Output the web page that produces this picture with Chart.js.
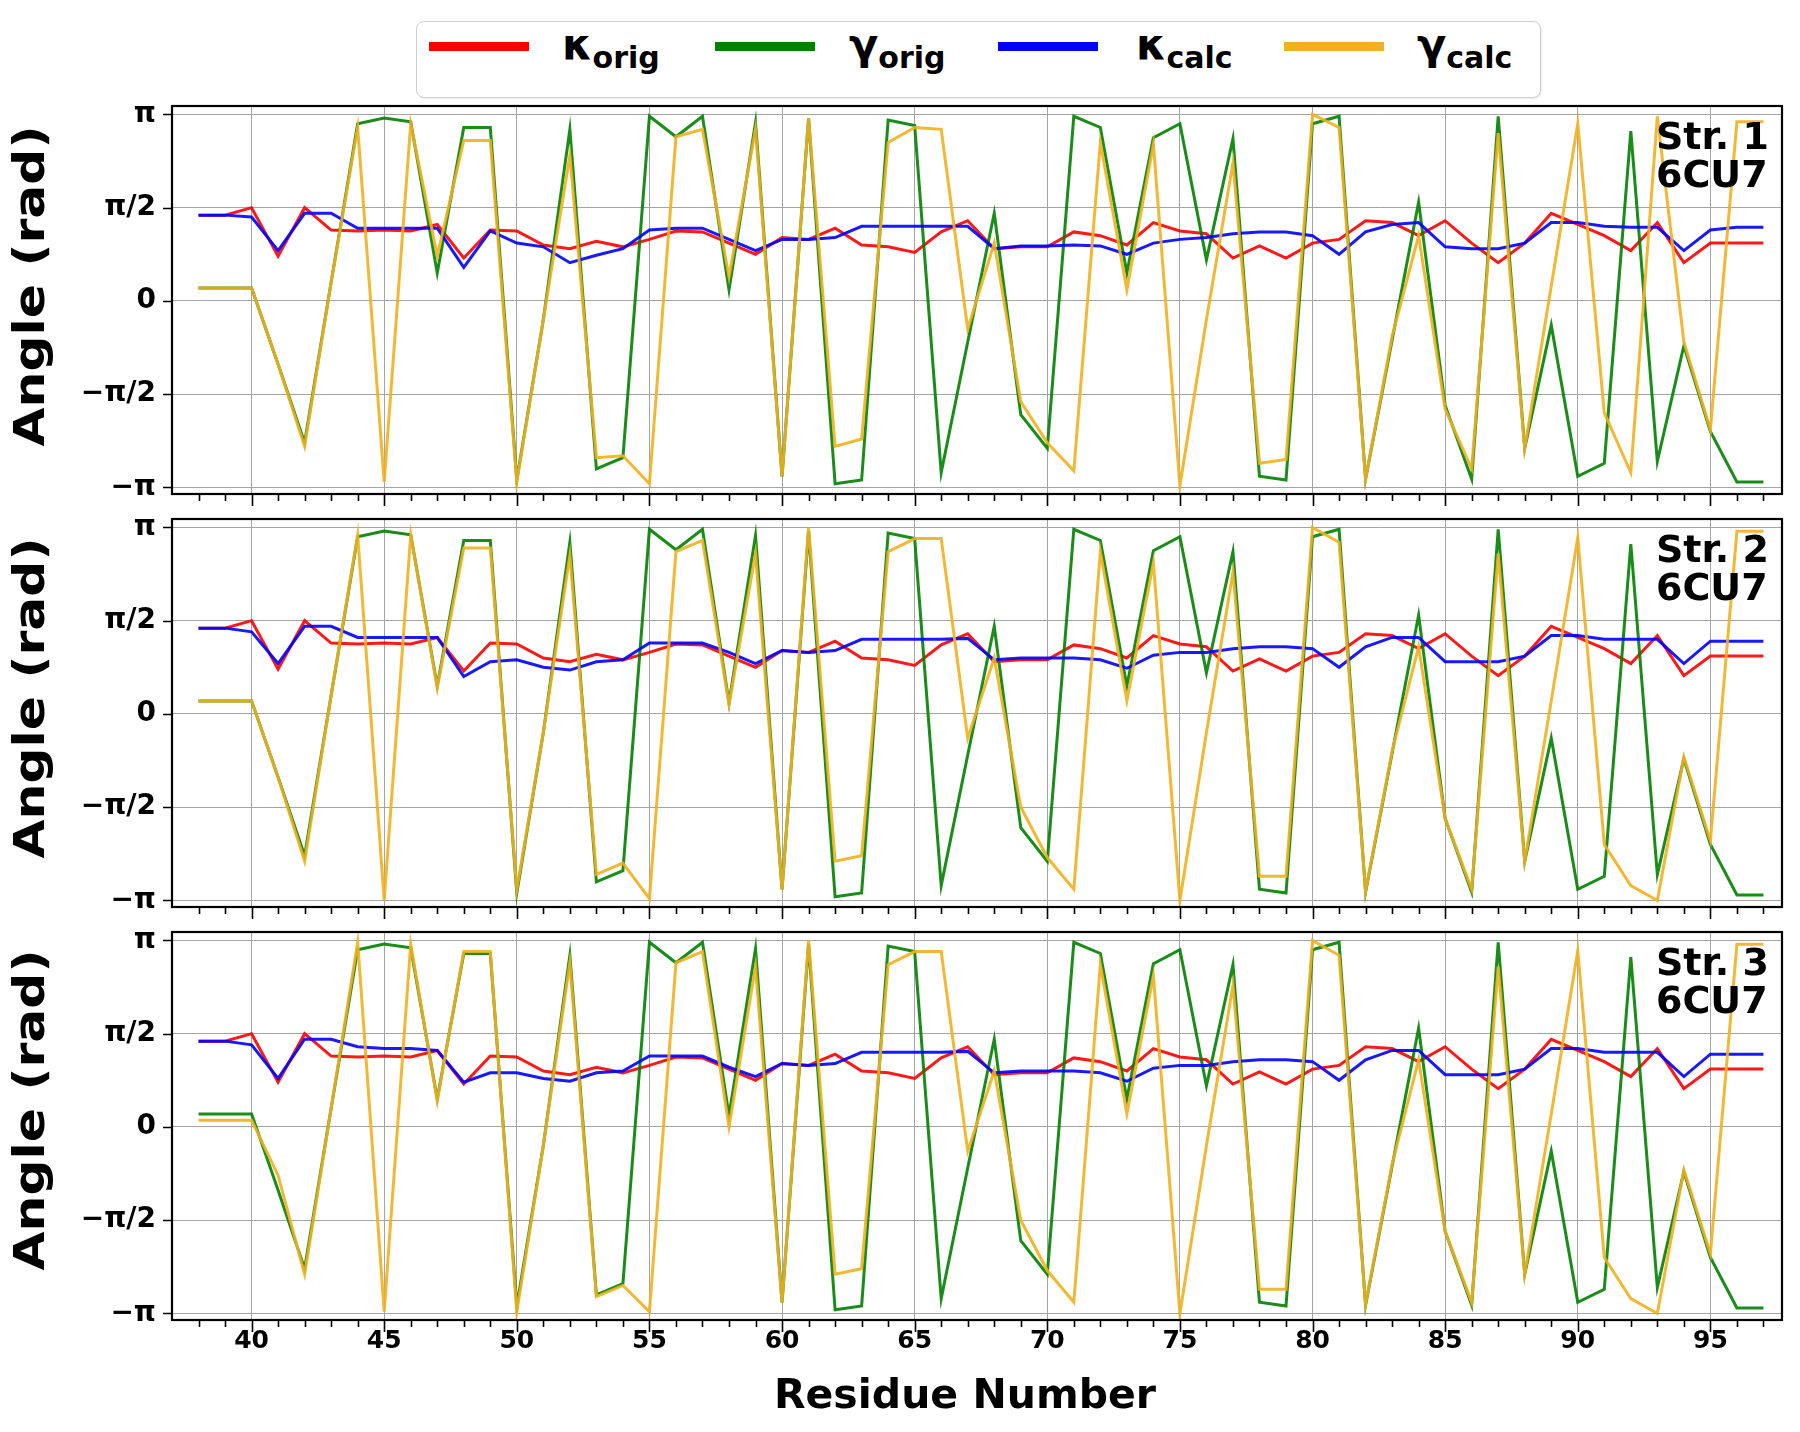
<!DOCTYPE html>
<html>
<head>
<meta charset="utf-8">
<script src="https://cdn.jsdelivr.net/npm/chart.js@4.4.1/dist/chart.umd.min.js"></script>
<style>
  body { margin: 0; background: #fff; width: 1800px; height: 1432px; position: relative; overflow: hidden; font-family: "DejaVu Sans", sans-serif; color: #000; }
  canvas { position: absolute; left: 0; }
  .tag { position: absolute; left: 1656px; font-weight: bold; font-size: 38px; line-height: 38px; }
  .ytitle { position: absolute; left: -170px; width: 400px; height: 48px; line-height: 48px; text-align: center; font-weight: bold; font-size: 42px; transform: rotate(-90deg) scale(1.2, 1); white-space: nowrap; }
  #legend { position: absolute; left: 416px; top: 21px; width: 1125px; height: 77px; border: 1.5px solid #cfcfcf; border-radius: 8px; box-sizing: border-box; background: #fff; box-shadow: 1px 1px 2px rgba(0,0,0,0.08); }
  .sw { position: absolute; top: 20px; width: 100px; height: 9px; }
  .lab { position: absolute; top: 2px; font-weight: bold; font-size: 43px; line-height: 40px; white-space: nowrap; }
  .lab sub { font-size: 30px; vertical-align: -9px; line-height: 0; }
  #xtitle { position: absolute; left: 150px; width: 1630px; top: 1370px; text-align: center; font-weight: bold; font-size: 41px; line-height: 48px; }
</style>
</head>
<body>
<div id="legend">
  <div class="sw" style="left:12px;background:#ff0000"></div><div class="lab" style="left:145px">κ<sub>orig</sub></div>
  <div class="sw" style="left:298px;background:#008000"></div><div class="lab" style="left:432px">γ<sub>orig</sub></div>
  <div class="sw" style="left:581px;background:#0000ff"></div><div class="lab" style="left:719px">κ<sub>calc</sub></div>
  <div class="sw" style="left:867px;background:#f0b020"></div><div class="lab" style="left:1000px">γ<sub>calc</sub></div>
</div>
<canvas id="p1" width="1800" height="418" style="top:96px"></canvas>
<canvas id="p2" width="1800" height="418" style="top:509px"></canvas>
<canvas id="p3" width="1800" height="448" style="top:922px"></canvas>
<div class="ytitle" style="top:262px">Angle (rad)</div>
<div class="ytitle" style="top:674px">Angle (rad)</div>
<div class="ytitle" style="top:1086px">Angle (rad)</div>
<div class="tag" style="top:117px">Str. 1<br>6CU7</div>
<div class="tag" style="top:530px">Str. 2<br>6CU7</div>
<div class="tag" style="top:943px">Str. 3<br>6CU7</div>
<div id="xtitle">Residue Number</div>
<script>
// angles are given in units of pi
const residues = [38,39,40,41,42,43,44,45,46,47,48,49,50,51,52,53,54,55,56,57,58,59,60,61,62,63,64,65,66,67,
  68,69,70,71,72,73,74,75,76,77,78,79,80,81,82,83,84,85,86,87,88,89,90,91,92,93,94,95,96,97]

const kOrig = [0.46,0.46,0.50,0.24,0.50,0.38,0.375,0.38,0.375,0.41,
  0.23,0.38,0.375,0.30,0.28,0.32,0.29,0.33,0.375,0.37,
  0.31,0.25,0.34,0.33,0.39,0.30,0.29,0.26,0.37,0.43,
  0.28,0.29,0.29,0.37,0.35,0.30,0.42,0.375,0.36,0.23,
  0.295,0.23,0.31,0.33,0.43,0.42,0.35,0.43,0.31,0.205,
  0.31,0.47,0.41,0.35,0.27,0.42,0.205,0.31,0.31,0.31]

const gOrig = [0.07,0.07,0.07,-0.34,-0.76,0.10,0.95,0.98,0.96,0.15,
  0.93,0.93,-0.96,-0.10,0.92,-0.90,-0.84,0.99,0.88,0.99,
  0.06,0.955,-0.94,0.98,-0.98,-0.96,0.97,0.94,-0.92,-0.22,
  0.47,-0.61,-0.79,0.99,0.93,0.15,0.875,0.95,0.22,0.87,
  -0.94,-0.96,0.95,0.99,-0.955,-0.21,0.53,-0.56,-0.955,0.99,
  -0.79,-0.13,-0.94,-0.87,0.91,-0.86,-0.24,-0.70,-0.97,-0.97]

const kCalc1 = [0.46,0.46,0.45,0.27,0.47,0.47,0.39,0.39,0.39,0.39,
  0.18,0.375,0.31,0.29,0.205,0.245,0.28,0.38,0.39,0.39,
  0.33,0.27,0.33,0.33,0.34,0.40,0.40,0.40,0.40,0.40,
  0.28,0.295,0.295,0.30,0.295,0.25,0.31,0.33,0.34,0.36,
  0.37,0.37,0.35,0.25,0.37,0.41,0.42,0.29,0.28,0.28,
  0.31,0.42,0.42,0.40,0.395,0.395,0.27,0.38,0.395,0.395]

const gCalc1 = [0.07,0.07,0.07,-0.34,-0.78,0.10,0.93,-0.97,0.95,0.24,
  0.86,0.86,-0.97,-0.10,0.78,-0.84,-0.83,-0.98,0.88,0.92,
  0.13,0.92,-0.94,0.98,-0.78,-0.74,0.85,0.93,0.92,-0.15,
  0.31,-0.54,-0.76,-0.91,0.85,0.06,0.84,-0.99,-0.10,0.74,
  -0.87,-0.85,1.0,0.93,-0.955,-0.19,0.35,-0.58,-0.90,0.90,
  -0.79,0.08,0.95,-0.60,-0.92,0.99,-0.22,-0.69,0.96,0.96]

const kCalc2 = [0.46,0.46,0.44,0.27,0.47,0.47,0.41,0.41,0.41,0.41,
  0.20,0.28,0.29,0.25,0.235,0.28,0.29,0.38,0.38,0.38,
  0.33,0.27,0.34,0.33,0.34,0.40,0.40,0.40,0.40,0.405,
  0.29,0.30,0.30,0.30,0.29,0.245,0.315,0.33,0.33,0.35,
  0.36,0.36,0.35,0.25,0.36,0.41,0.41,0.28,0.28,0.28,
  0.31,0.42,0.42,0.40,0.40,0.40,0.27,0.39,0.39,0.39]

const gCalc2 = [0.07,0.07,0.07,-0.34,-0.79,0.10,0.96,-1.0,0.96,0.14,
  0.89,0.89,-0.94,-0.10,0.85,-0.86,-0.80,-0.99,0.87,0.93,
  0.05,0.86,-0.94,1.0,-0.79,-0.76,0.87,0.94,0.94,-0.13,
  0.30,-0.50,-0.77,-0.94,0.87,0.07,0.81,-1.0,-0.10,0.76,
  -0.87,-0.87,1.0,0.92,-0.95,-0.20,0.36,-0.56,-0.94,0.86,
  -0.79,0.07,0.945,-0.70,-0.92,-1.0,-0.23,-0.68,0.98,0.98]

const kCalc3 = [0.46,0.46,0.44,0.26,0.47,0.47,0.43,0.42,0.42,0.41,
  0.24,0.29,0.29,0.26,0.245,0.29,0.30,0.38,0.38,0.38,
  0.32,0.27,0.34,0.33,0.34,0.40,0.40,0.40,0.40,0.405,
  0.29,0.30,0.30,0.30,0.29,0.245,0.315,0.33,0.33,0.35,
  0.36,0.36,0.35,0.25,0.36,0.41,0.41,0.28,0.28,0.28,
  0.31,0.42,0.42,0.40,0.40,0.40,0.27,0.39,0.39,0.39]

const gCalc3 = [0.036,0.036,0.036,-0.26,-0.79,0.10,0.99,-0.99,0.98,0.14,
  0.94,0.94,-0.99,-0.10,0.88,-0.91,-0.85,-0.99,0.88,0.94,
  0.0,0.86,-0.94,1.0,-0.79,-0.76,0.87,0.94,0.94,-0.13,
  0.30,-0.50,-0.77,-0.94,0.87,0.07,0.81,-1.0,-0.10,0.76,
  -0.87,-0.87,1.0,0.92,-0.95,-0.20,0.36,-0.56,-0.94,0.86,
  -0.79,0.07,0.945,-0.70,-0.92,-1.0,-0.23,-0.68,0.98,0.98]

const yTickValues = [-1, -0.5, 0, 0.5, 1]
const yTickLabels = ['−π', '−π/2', '0', 'π/2', 'π']

const colors = {
  kOrig: 'rgba(255,0,0,0.9)',
  gOrig: 'rgba(0,128,0,0.9)',
  kCalc: 'rgba(0,0,255,0.9)',
  gCalc: 'rgba(240,176,32,0.9)',
}

const pts = arr => residues.map((r, i) => ({ x: r, y: arr[i] }))

// black frame + outward tick marks like matplotlib
const frame = {
  id: 'frame',
  afterDraw(chart) {
    const { ctx, chartArea: a, scales: { x, y } } = chart
    ctx.save()
    ctx.strokeStyle = '#000'
    ctx.lineWidth = 1.6
    ctx.beginPath()
    residues.forEach(r => {
      const px = Math.round(x.getPixelForValue(r)) + 0.5
      ctx.moveTo(px, a.bottom)
      ctx.lineTo(px, a.bottom + (r % 5 === 0 ? 12 : 7))
    })
    yTickValues.forEach(v => {
      const py = Math.round(y.getPixelForValue(v)) + 0.5
      ctx.moveTo(a.left, py)
      ctx.lineTo(a.left - 9, py)
    })
    ctx.stroke()
    ctx.lineWidth = 2.2
    ctx.strokeRect(a.left, a.top, a.right - a.left, a.bottom - a.top)
    ctx.restore()
  }
}

function makePanel(id, kCalc, gCalc, showX) {
  new Chart(document.getElementById(id), {
    type: 'line',
    data: {
      datasets: [
        { label: 'κorig', data: pts(kOrig), borderColor: colors.kOrig, order: 4 },
        { label: 'γorig', data: pts(gOrig), borderColor: colors.gOrig, order: 3 },
        { label: 'κcalc', data: pts(kCalc), borderColor: colors.kCalc, order: 2 },
        { label: 'γcalc', data: pts(gCalc), borderColor: colors.gCalc, order: 1 },
      ],
    },
    options: {
      responsive: false,
      animation: false,
      devicePixelRatio: 1,
      elements: { point: { radius: 0 }, line: { borderWidth: 3, tension: 0 } },
      layout: { autoPadding: false, padding: { left: 0, right: 18, top: 10, bottom: showX ? 10 : 20 } },
      plugins: { legend: { display: false }, tooltip: { enabled: false } },
      scales: {
        x: {
          type: 'linear',
          min: 37,
          max: 97.7,
          border: { display: false },
          grid: { color: '#a4a4a4', lineWidth: 1, drawTicks: false },
          ticks: {
            display: showX,
            stepSize: 5,
            includeBounds: false,
            padding: 6,
            color: '#000',
            font: { family: 'DejaVu Sans', size: 25, weight: 'bold' },
            maxRotation: 0,
          },
          afterFit: s => {
            s.height = showX ? 40 : 0
            s.paddingLeft = 0
            s.paddingRight = 0
          },
        },
        y: {
          min: -1.035,
          max: 1.045,
          border: { display: false },
          grid: { color: '#a4a4a4', lineWidth: 1, drawTicks: false },
          ticks: {
            stepSize: 0.5,
            includeBounds: false,
            padding: 16,
            color: '#000',
            font: { family: 'DejaVu Sans', size: 28, weight: 'bold' },
            callback: v => yTickLabels[yTickValues.indexOf(v)],
          },
          afterFit: s => {
            s.width = 172
            s.paddingTop = 0
            s.paddingBottom = 0
          },
        },
      },
    },
    plugins: [frame],
  })
}

makePanel('p1', kCalc1, gCalc1, false)
makePanel('p2', kCalc2, gCalc2, false)
makePanel('p3', kCalc3, gCalc3, true)
</script>
</body>
</html>
